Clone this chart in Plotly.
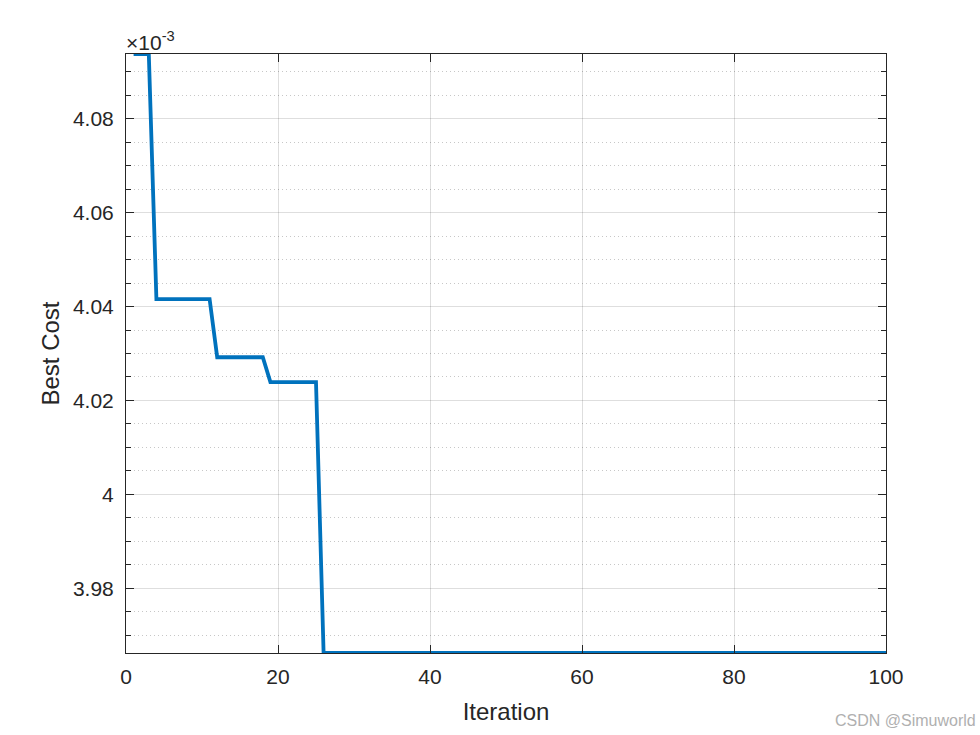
import plotly.graph_objects as go

# Best cost (in units of 1e-3) at the iterations where the curve changes
iterations = [1, 3, 4, 11, 12, 18, 19, 25, 26, 100]
best_cost = [4.0938, 4.0938, 4.0416, 4.0416, 4.0292, 4.0292, 4.0239, 4.0239, 3.9662, 3.9662]

x_ticks = [0, 20, 40, 60, 80, 100]
y_ticks = [3.98, 4.00, 4.02, 4.04, 4.06, 4.08]
y_ticklabels = ["3.98", "4", "4.02", "4.04", "4.06", "4.08"]
y_minor_ticks = [3.97, 3.975, 3.985, 3.99, 3.995, 4.005, 4.01, 4.015, 4.025, 4.03,
                 4.035, 4.045, 4.05, 4.055, 4.065, 4.07, 4.075, 4.085, 4.09]

font_family = "Liberation Sans, Arial, Helvetica, sans-serif"
axis_color = "#262626"
grid_color = "rgba(0,0,0,0.13)"

fig = go.Figure()
fig.add_trace(go.Scatter(
    x=iterations, y=best_cost, mode="lines",
    line=dict(color="#0072BD", width=3.8),
    showlegend=False, hoverinfo="x+y",
))

fig.update_layout(
    width=980, height=735,
    margin=dict(l=126, r=94, t=54, b=82),
    paper_bgcolor="white", plot_bgcolor="white",
    font=dict(family=font_family, color=axis_color, size=21),
    xaxis=dict(
        range=[0, 100], tickvals=x_ticks,
        showgrid=True, gridcolor=grid_color, gridwidth=1,
        showline=True, linecolor=axis_color, linewidth=1, mirror="ticks",
        ticks="inside", ticklen=8, tickcolor=axis_color, tickwidth=1,
        tickfont=dict(size=21, color=axis_color), ticklabelstandoff=5,
        title=dict(text="Iteration", font=dict(size=24, color=axis_color), standoff=15),
        zeroline=False,
    ),
    yaxis=dict(
        range=[min(best_cost), max(best_cost)],
        tickvals=y_ticks, ticktext=y_ticklabels,
        showgrid=True, gridcolor=grid_color, gridwidth=1,
        showline=True, linecolor=axis_color, linewidth=1, mirror="ticks",
        ticks="inside", ticklen=8, tickcolor=axis_color, tickwidth=1,
        tickfont=dict(size=21, color=axis_color), ticklabelstandoff=7,
        title=dict(text="Best Cost", font=dict(size=24, color=axis_color), standoff=6),
        zeroline=False,
        minor=dict(tickmode="array", tickvals=y_minor_ticks, showgrid=True,
                   gridcolor="rgba(0,0,0,0.22)", griddash="1px,3px", gridwidth=1,
                   ticks="inside", ticklen=5, tickcolor=axis_color, tickwidth=1),
    ),
)

fig.add_annotation(
    xref="paper", yref="paper", x=0, y=1, xanchor="left", yanchor="bottom",
    text="×10<sup>-3</sup>", showarrow=False, xshift=-2, yshift=-2,
    font=dict(size=21, color=axis_color, family=font_family),
)
fig.add_annotation(
    xref="paper", yref="paper", x=1, y=0, xanchor="right", yanchor="top",
    text="CSDN @Simuworld", showarrow=False, xshift=92, yshift=-57,
    font=dict(size=16, color="#b0b0b0", family=font_family),
)

fig.write_html("out.html", post_script="document.body.style.margin='0';",
               config={"displayModeBar": False})
